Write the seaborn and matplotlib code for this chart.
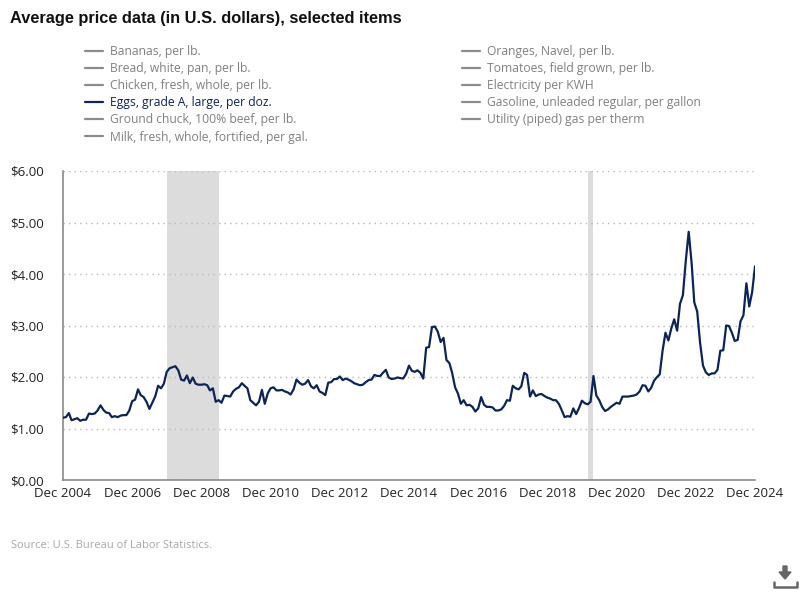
import numpy as np
import pandas as pd
import matplotlib
matplotlib.use("Agg")
import matplotlib.pyplot as plt
import seaborn as sns
from matplotlib.lines import Line2D
from matplotlib.ticker import FuncFormatter
import matplotlib.patches as mpatches

# ---------------- data ----------------
start_month = "2004-12-01"
egg_prices = [
    1.21,
    1.22, 1.30, 1.16, 1.18, 1.20, 1.15, 1.17, 1.17, 1.29, 1.28, 1.29, 1.35,   # 2005
    1.45, 1.36, 1.31, 1.30, 1.22, 1.24, 1.22, 1.25, 1.26, 1.26, 1.35, 1.53,   # 2006
    1.56, 1.76, 1.65, 1.61, 1.52, 1.38, 1.50, 1.62, 1.83, 1.78, 1.87, 2.10,   # 2007
    2.17, 2.19, 2.21, 2.13, 1.95, 1.93, 2.03, 1.88, 1.99, 1.87, 1.85, 1.85,   # 2008
    1.86, 1.84, 1.74, 1.78, 1.52, 1.55, 1.50, 1.64, 1.63, 1.62, 1.72, 1.77,   # 2009
    1.80, 1.88, 1.83, 1.78, 1.55, 1.50, 1.45, 1.52, 1.75, 1.48, 1.68, 1.78,   # 2010
    1.80, 1.74, 1.74, 1.75, 1.72, 1.70, 1.66, 1.76, 1.95, 1.89, 1.85, 1.87,   # 2011
    1.94, 1.82, 1.78, 1.84, 1.72, 1.69, 1.65, 1.89, 1.90, 1.96, 1.96, 2.01,   # 2012
    1.94, 1.97, 1.95, 1.92, 1.88, 1.86, 1.84, 1.85, 1.90, 1.94, 1.95, 2.04,   # 2013
    2.02, 2.02, 2.08, 2.14, 1.99, 1.96, 1.97, 1.99, 1.98, 1.97, 2.06, 2.22,   # 2014
    2.12, 2.10, 2.13, 2.08, 1.97, 2.57, 2.58, 2.97, 2.98, 2.88, 2.68, 2.76,   # 2015
    2.33, 2.27, 2.08, 1.80, 1.68, 1.48, 1.55, 1.45, 1.46, 1.42, 1.33, 1.39,   # 2016
    1.61, 1.46, 1.42, 1.42, 1.41, 1.35, 1.35, 1.37, 1.44, 1.55, 1.54, 1.83,   # 2017
    1.78, 1.76, 1.82, 2.08, 2.04, 1.62, 1.74, 1.63, 1.66, 1.67, 1.63, 1.60,   # 2018
    1.58, 1.55, 1.55, 1.48, 1.36, 1.22, 1.24, 1.23, 1.39, 1.28, 1.40, 1.54,   # 2019
    1.49, 1.47, 1.52, 2.02, 1.64, 1.55, 1.42, 1.34, 1.37, 1.42, 1.46, 1.50,   # 2020
    1.48, 1.62, 1.62, 1.62, 1.63, 1.64, 1.66, 1.72, 1.84, 1.83, 1.72, 1.79,   # 2021
    1.93, 2.00, 2.05, 2.52, 2.86, 2.71, 2.94, 3.12, 2.90, 3.42, 3.59, 4.25,   # 2022
    4.82, 4.21, 3.45, 3.27, 2.67, 2.22, 2.09, 2.04, 2.07, 2.07, 2.14, 2.51,   # 2023
    2.52, 3.00, 2.99, 2.86, 2.70, 2.72, 3.08, 3.20, 3.82, 3.37, 3.65, 4.15,   # 2024
]
recession_starts = ["2007-12-01", "2020-02-01"]
recession_ends = ["2009-06-01", "2020-04-01"]

legend_col1 = ["Bananas, per lb.", "Bread, white, pan, per lb.",
               "Chicken, fresh, whole, per lb.", "Eggs, grade A, large, per doz.",
               "Ground chuck, 100% beef, per lb.",
               "Milk, fresh, whole, fortified, per gal."]
legend_col2 = ["Oranges, Navel, per lb.", "Tomatoes, field grown, per lb.",
               "Electricity per KWH", "Gasoline, unleaded regular, per gallon",
               "Utility (piped) gas per therm"]
active_item = "Eggs, grade A, large, per doz."

y_ticks = [0, 1, 2, 3, 4, 5, 6]
x_tick_dates = ["2004-12-01", "2006-12-01", "2008-12-01", "2010-12-01",
                "2012-12-01", "2014-12-01", "2016-12-01", "2018-12-01",
                "2020-12-01", "2022-12-01", "2024-12-01"]
x_tick_labels = ["Dec 2004", "Dec 2006", "Dec 2008", "Dec 2010", "Dec 2012",
                 "Dec 2014", "Dec 2016", "Dec 2018", "Dec 2020", "Dec 2022",
                 "Dec 2024"]

title_text = "Average price data (in U.S. dollars), selected items"
source_text = "Source: U.S. Bureau of Labor Statistics."

# ---------------- style ----------------
sns.set_theme(style="white")
plt.rcParams["font.family"] = ["Open Sans", "DejaVu Sans"]

NAVY = "#0c2457"
GRAYTXT = "#808080"

df = pd.DataFrame({
    "date": pd.date_range(start_month, periods=len(egg_prices), freq="MS"),
    "price": egg_prices,
})

fig = plt.figure(figsize=(8.0, 5.94), dpi=100)
ax = fig.add_axes([63 / 800, 1 - 480 / 594, 692 / 800, 309 / 594])

for s, e in zip(recession_starts, recession_ends):
    ax.axvspan(pd.Timestamp(s), pd.Timestamp(e), color="#dcdcdc", lw=0, zorder=0)

sns.lineplot(data=df, x="date", y="price", ax=ax, color=NAVY, lw=1.6, zorder=3)

ax.set_xlim(df["date"].iloc[0], df["date"].iloc[-1])
ax.set_ylim(y_ticks[0], y_ticks[-1])
ax.set_yticks(y_ticks)
ax.yaxis.set_major_formatter(FuncFormatter(lambda v, p: f"${v:.2f}"))
ax.set_xticks(pd.to_datetime(x_tick_dates))
ax.set_xticklabels(x_tick_labels)
ax.set_xlabel("")
ax.set_ylabel("")

ax.yaxis.grid(True, linestyle=(0, (1, 3)), color="#b8b8b8", lw=1)
ax.xaxis.grid(False)
for side in ["top", "right"]:
    ax.spines[side].set_visible(False)
for side in ["left", "bottom"]:
    ax.spines[side].set_color("#8a8a8a")
    ax.spines[side].set_linewidth(1.2)

ax.tick_params(axis="y", length=10, color="#d0d0d0", width=1, pad=4,
               labelsize=9.5, labelcolor="#222222")
ax.tick_params(axis="x", length=0, pad=5, labelsize=9.5, labelcolor="#222222")

# title
fig.text(10 / 800, 1 - 18 / 594, title_text, fontsize=11.8, fontweight="bold",
         family=["Liberation Sans", "DejaVu Sans"], color="#111111",
         va="center", ha="left")

# legends
def make_handles(labels):
    hs = []
    for lab in labels:
        c = NAVY if lab == active_item else "#8c8c8c"
        hs.append(Line2D([0], [0], color=c, lw=1.6))
    return hs

def colors(labels):
    return [NAVY if lab == active_item else GRAYTXT for lab in labels]

leg_kw = dict(frameon=False, loc="upper left", fontsize=8.7, handlelength=1.5,
              handletextpad=0.6, labelspacing=0.34, borderpad=0, borderaxespad=0)
l1 = fig.legend(make_handles(legend_col1), legend_col1,
                bbox_to_anchor=(85 / 800, 1 - 45 / 594),
                labelcolor=colors(legend_col1), **leg_kw)
l2 = fig.legend(make_handles(legend_col2), legend_col2,
                bbox_to_anchor=(462 / 800, 1 - 45 / 594),
                labelcolor=colors(legend_col2), **leg_kw)

# source
fig.text(11 / 800, 1 - 545 / 594, source_text, fontsize=8, color="#a8a8a8",
         va="center", ha="left")

# download icon (decoration)
fig.add_artist(mpatches.FancyArrow(785 / 800, 1 - 566 / 594, 0, -13 / 594,
                                   width=4 / 800, head_width=12 / 800,
                                   head_length=7 / 594, color="#666666",
                                   transform=fig.transFigure, length_includes_head=True))
fig.add_artist(Line2D([774 / 800, 774 / 800, 797 / 800, 797 / 800],
                      [1 - 582 / 594, 1 - 587 / 594, 1 - 587 / 594, 1 - 582 / 594],
                      color="#666666", lw=1.8, transform=fig.transFigure))

fig.savefig("out.png", dpi=100)
